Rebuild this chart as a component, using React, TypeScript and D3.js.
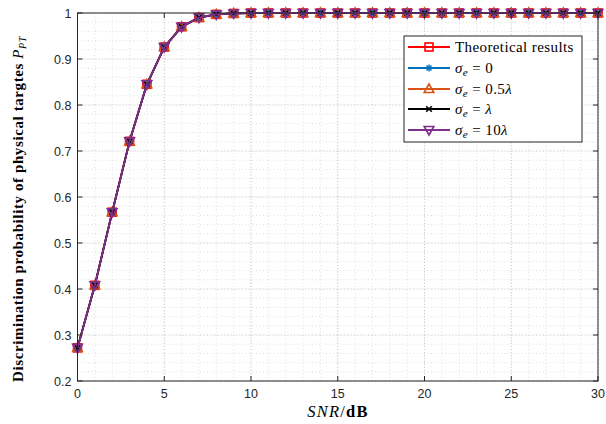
import React from "react";
import * as d3 from "d3";

const snrDb = d3.range(0, 31);
const theoretical = [0.272, 0.408, 0.567, 0.721, 0.845, 0.926, 0.970, 0.990, 0.997, 0.999, 1, 1, 1, 1, 1, 1, 1, 1, 1, 1, 1, 1, 1, 1, 1, 1, 1, 1, 1, 1, 1];
const sigma0 = [0.272, 0.408, 0.567, 0.721, 0.845, 0.926, 0.970, 0.990, 0.997, 0.999, 1, 1, 1, 1, 1, 1, 1, 1, 1, 1, 1, 1, 1, 1, 1, 1, 1, 1, 1, 1, 1];
const sigmaHalf = [0.272, 0.408, 0.567, 0.721, 0.845, 0.926, 0.970, 0.990, 0.997, 0.999, 1, 1, 1, 1, 1, 1, 1, 1, 1, 1, 1, 1, 1, 1, 1, 1, 1, 1, 1, 1, 1];
const sigmaOne = [0.272, 0.408, 0.567, 0.721, 0.845, 0.926, 0.970, 0.990, 0.997, 0.999, 1, 1, 1, 1, 1, 1, 1, 1, 1, 1, 1, 1, 1, 1, 1, 1, 1, 1, 1, 1, 1];
const sigmaTen = [0.272, 0.408, 0.567, 0.721, 0.845, 0.926, 0.970, 0.990, 0.997, 0.999, 1, 1, 1, 1, 1, 1, 1, 1, 1, 1, 1, 1, 1, 1, 1, 1, 1, 1, 1, 1, 1];

const xTicks = [0, 5, 10, 15, 20, 25, 30];
const yTicks = [0.2, 0.3, 0.4, 0.5, 0.6, 0.7, 0.8, 0.9, 1];

type MarkerKind = "square" | "asterisk" | "triangle" | "cross" | "down";

const series: { key: string; values: number[]; color: string; marker: MarkerKind; width: number }[] = [
  { key: "theory", values: theoretical, color: "#ff0000", marker: "square", width: 1.8 },
  { key: "s0", values: sigma0, color: "#0072BD", marker: "asterisk", width: 1.8 },
  { key: "s05", values: sigmaHalf, color: "#D95319", marker: "triangle", width: 1.8 },
  { key: "s1", values: sigmaOne, color: "#000000", marker: "cross", width: 1.8 },
  { key: "s10", values: sigmaTen, color: "#7E2F8E", marker: "down", width: 1.8 },
];

const left = 77.5;
const right = 598;
const top = 13;
const bottom = 381;

const x = d3.scaleLinear().domain([0, 30]).range([left, right]);
const y = d3.scaleLinear().domain([0.2, 1]).range([bottom, top]);

function Marker({ kind, cx, cy, color }: { kind: MarkerKind; cx: number; cy: number; color: string }) {
  const sw = 1.6;
  switch (kind) {
    case "square":
      return <rect x={cx - 4} y={cy - 4} width={8} height={8} fill="none" stroke={color} strokeWidth={sw} />;
    case "asterisk": {
      const r = 3.5;
      const d = r * 0.707;
      return (
        <g stroke={color} strokeWidth={1.4}>
          <line x1={cx - r} y1={cy} x2={cx + r} y2={cy} />
          <line x1={cx} y1={cy - r} x2={cx} y2={cy + r} />
          <line x1={cx - d} y1={cy - d} x2={cx + d} y2={cy + d} />
          <line x1={cx - d} y1={cy + d} x2={cx + d} y2={cy - d} />
        </g>
      );
    }
    case "triangle":
      return (
        <path
          d={`M${cx},${cy - 5} L${cx + 4.8},${cy + 3.5} L${cx - 4.8},${cy + 3.5} Z`}
          fill="none"
          stroke={color}
          strokeWidth={sw}
        />
      );
    case "cross": {
      const r = 2.8;
      return (
        <g stroke={color} strokeWidth={1.6}>
          <line x1={cx - r} y1={cy - r} x2={cx + r} y2={cy + r} />
          <line x1={cx - r} y1={cy + r} x2={cx + r} y2={cy - r} />
        </g>
      );
    }
    case "down":
      return (
        <path
          d={`M${cx},${cy + 5} L${cx + 4.8},${cy - 3.5} L${cx - 4.8},${cy - 3.5} Z`}
          fill="none"
          stroke={color}
          strokeWidth={sw}
        />
      );
  }
}

export default function App() {
  const line = d3
    .line<number>()
    .x((_, i) => x(snrDb[i]))
    .y((v) => y(v));

  const minorX = d3.range(0, 31, 1);
  const minorY = d3.range(0.2, 1.0001, 0.02);
  const tickLen = 5;
  const sans = "'Liberation Sans', Arial, sans-serif";
  const serif = "'Liberation Serif', 'DejaVu Serif', serif";

  const legendX = 404;
  const legendY = 36;
  const legendRows = [47, 68, 89, 109, 130];

  const legendLabel = (i: number) => {
    if (i === 0) return <tspan>Theoretical results</tspan>;
    const rhs = ["0", "0.5λ", "λ", "10λ"][i - 1];
    return (
      <>
        <tspan fontStyle="italic">σ</tspan>
        <tspan fontStyle="italic" fontSize={11} dy={3}>e</tspan>
        <tspan dy={-3}>{" = "}</tspan>
        {rhs.split("").map((ch, k) => (
          <tspan key={k} fontStyle={ch === "λ" ? "italic" : "normal"}>{ch}</tspan>
        ))}
      </>
    );
  };

  return (
    <svg width={606} height={424} style={{ position: "absolute", left: 0, top: 0 }}>
      <rect x={0} y={0} width={606} height={424} fill="#ffffff" />
      <rect x={left} y={top} width={right - left} height={bottom - top} fill="#ffffff" />
      {/* minor grid */}
      <g stroke="#d6d6d6" strokeWidth={0.8} strokeDasharray="1,2.5">
        {minorX.map((v) => (
          <line key={`mx${v}`} x1={x(v)} x2={x(v)} y1={top} y2={bottom} />
        ))}
        {minorY.map((v, i) => (
          <line key={`my${i}`} x1={left} x2={right} y1={y(v)} y2={y(v)} />
        ))}
      </g>
      {/* major grid */}
      <g stroke="#c4c4c4" strokeWidth={0.8} strokeDasharray="1,2">
        {xTicks.map((v) => (
          <line key={`gx${v}`} x1={x(v)} x2={x(v)} y1={top} y2={bottom} />
        ))}
        {yTicks.map((v) => (
          <line key={`gy${v}`} x1={left} x2={right} y1={y(v)} y2={y(v)} />
        ))}
      </g>

      {/* series */}
      {series.map((s) => (
        <g key={s.key}>
          <path d={line(s.values) ?? ""} fill="none" stroke={s.color} strokeWidth={s.width} strokeLinejoin="round" />
          {s.values.map((v, i) => (
            <Marker key={i} kind={s.marker} cx={x(snrDb[i])} cy={y(v)} color={s.color} />
          ))}
        </g>
      ))}

      {/* axes box and ticks */}
      <rect x={left} y={top} width={right - left} height={bottom - top} fill="none" stroke="#262626" strokeWidth={1} />
      <g stroke="#262626" strokeWidth={1}>
        {xTicks.map((v) => (
          <g key={`tx${v}`}>
            <line x1={x(v)} x2={x(v)} y1={bottom} y2={bottom - tickLen} />
            <line x1={x(v)} x2={x(v)} y1={top} y2={top + tickLen} />
          </g>
        ))}
        {yTicks.map((v) => (
          <g key={`ty${v}`}>
            <line x1={left} x2={left + tickLen} y1={y(v)} y2={y(v)} />
            <line x1={right} x2={right - tickLen} y1={y(v)} y2={y(v)} />
          </g>
        ))}
      </g>
      <g fontFamily={sans} fontSize={12.5} fill="#262626">
        {xTicks.map((v) => (
          <text key={`lx${v}`} x={x(v)} y={bottom + 17} textAnchor="middle">
            {v}
          </text>
        ))}
        {yTicks.map((v) => (
          <text key={`ly${v}`} x={left - 6} y={y(v) + 4.5} textAnchor="end">
            {v === 1 ? "1" : v.toFixed(1)}
          </text>
        ))}
      </g>

      {/* axis titles */}
      <text x={338} y={417} textAnchor="middle" fontFamily={serif} fontSize={16.5} letterSpacing={1.2} fill="#000">
        <tspan fontStyle="italic">SNR</tspan>
        <tspan>/</tspan>
        <tspan fontWeight="bold">dB</tspan>
      </text>
      <text
        transform="translate(22.5,209) rotate(-90)"
        textAnchor="middle"
        fontFamily={serif}
        fontSize={15}
        fontWeight="bold"
        letterSpacing={0.6}
        fill="#000"
      >
        Discrimination probability of physical targtes{" "}
        <tspan fontStyle="italic" fontWeight="normal">P</tspan>
        <tspan fontStyle="italic" fontWeight="normal" fontSize={10} dy={3}>PT</tspan>
      </text>

      {/* legend */}
      <rect x={legendX} y={legendY} width={178} height={106} fill="#ffffff" stroke="#262626" strokeWidth={1} />
      {series.map((s, i) => {
        const ry = legendRows[i];
        return (
          <g key={`lg${s.key}`}>
            <line x1={408} x2={450} y1={ry} y2={ry} stroke={s.color} strokeWidth={s.width} />
            <Marker kind={s.marker} cx={429} cy={ry} color={s.color} />
            <text x={455} y={ry + 5} fontFamily={serif} fontSize={15} letterSpacing={0.4} fill="#000">
              {legendLabel(i)}
            </text>
          </g>
        );
      })}
    </svg>
  );
}
